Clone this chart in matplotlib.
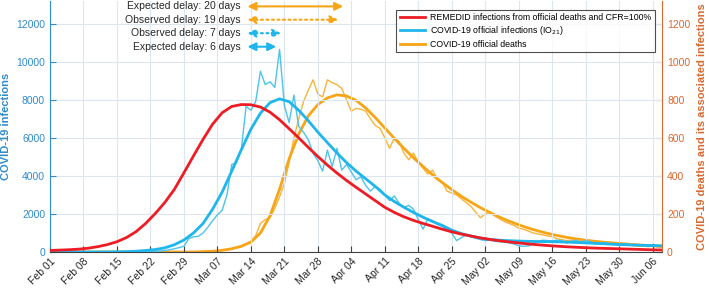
import numpy as np
import pandas as pd
import matplotlib
matplotlib.use('Agg')
from matplotlib import pyplot as plt

plt.rcParams['font.family'] = ['Liberation Sans', 'DejaVu Sans']

# daily dates Feb 01 -> Jun 08 2020, smooth curves read every 2 days
days = pd.date_range('2020-02-01', periods=129, freq='D')
days2 = pd.date_range('2020-02-01', periods=65, freq='2D')

# REMEDID infections from official deaths (left axis), every 2 days
remedid = [80, 100, 120, 150, 200, 280, 390, 540, 760, 1070, 1500, 2020, 2600, 3290, 4160, 5050,
           5920, 6720, 7320, 7650, 7750, 7740, 7620, 7350, 6950, 6480, 6000, 5500, 5020, 4570, 4150,
           3760, 3400, 3050, 2700, 2350, 2080, 1850, 1660, 1500, 1350, 1200, 1060, 940, 840, 740,
           660, 590, 530, 475, 425, 380, 340, 305, 275, 250, 225, 205, 190, 175, 160, 145, 130, 115, 105]

# official infections, smoothed (left axis), every 2 days
inf_smooth = [0, 0, 0, 0, 0, 0, 5, 10, 20, 40, 80, 130, 220, 380, 630, 1000, 1500, 2250, 3150, 4250,
              5370, 6450, 7300, 7850, 8050, 7900, 7450, 6900, 6300, 5750, 5200, 4700, 4250, 3850, 3450,
              3000, 2650, 2350, 2080, 1830, 1600, 1400, 1150, 970, 840, 730, 660, 620, 595, 575, 560,
              550, 545, 535, 520, 500, 480, 455, 430, 405, 385, 365, 350, 335, 325]

# official deaths, smoothed (right axis), every 2 days
dth_smooth = [0, 0, 0, 0, 0, 0, 0, 0, 0, 0, 0, 0, 0, 0, 0, 0, 2, 4, 9, 17, 30, 52, 100, 190, 330, 490,
              620, 715, 775, 810, 826, 820, 797, 757, 707, 652, 597, 545, 495, 450, 405, 365, 328, 293,
              262, 233, 207, 183, 162, 143, 126, 111, 98, 87, 77, 69, 62, 56, 51, 47, 43, 39, 36, 33, 30]

# official daily infections IO21 (left axis)
inf_daily = [0] * 20 + [10, 15, 25, 50, 80, 120, 170, 230, 300, 700, 800, 820, 1000, 1300, 1650, 1950,
             2200, 3000, 4600, 4700, 5400, 7650, 7450, 7900, 9500, 8800, 8950, 8650, 10650, 7700, 6800,
             8250, 6600, 6300, 5900, 5200, 4800, 4250, 5350, 4500, 5450, 4300, 4600, 4200, 3800, 3950,
             3500, 3200, 3450, 3300, 3000, 2700, 2950, 2550, 2350, 2450, 2250, 1700, 1200, 1750, 1650,
             1450, 1350, 1150, 1000, 600, 750, 900, 800, 720, 650, 600, 620, 560, 540, 520, 480, 420,
             330, 300, 320, 420, 560, 620, 600, 590, 620, 600, 470, 560, 620, 520, 600, 540, 420, 460,
             500, 430, 390, 360, 420, 390, 350, 400, 310, 350, 400, 330, 350]

# official daily deaths (right axis)
dth_daily = [0] * 32 + [2, 3, 4, 6, 8, 12, 16, 22, 30, 42, 55, 85, 150, 170, 180, 230, 290, 360, 470,
             600, 700, 790, 850, 905, 830, 815, 905, 890, 880, 860, 800, 740, 755, 750, 740, 700, 665,
             650, 600, 545, 600, 580, 520, 485, 520, 470, 440, 410, 430, 380, 370, 320, 310, 300, 280,
             260, 240, 210, 180, 200, 210, 190, 175, 160, 150, 140, 125, 120, 110, 100, 95, 90, 85, 80,
             70, 65, 60, 62, 58, 55, 50, 52, 50, 45, 48, 40, 42, 38, 35, 37, 33, 30, 32, 28, 30, 27, 25]

# delays (days) measured from the REMEDID peak
remedid_peak = pd.Timestamp('2020-03-13 07:00')
delays = [('Expected delay: 20 days', 20, 'orange', '-'),
          ('Observed delay: 19 days', 19, 'orange', ':'),
          ('Observed delay: 7 days', 7, 'blue', ':'),
          ('Expected delay: 6 days', 6, 'blue', '-')]

red = '#ee1c24'
cyan = '#1eb6ec'
cyan_thin = '#4ec3ec'
orange = '#f7a516'
orange_thin = '#f6b43a'
left_col = '#2f8ccc'
right_col = '#d8692f'

fig = plt.figure(figsize=(7.09, 2.88), dpi=100)
ax = fig.add_axes([0.0705, 0.125, 0.8635, 0.872])
ax2 = ax.twinx()

ax.plot(days, inf_daily, color=cyan_thin, lw=1.0, zorder=3)
l2, = ax.plot(days2, inf_smooth, color=cyan, lw=2.0, zorder=4)
ax2.plot(days, dth_daily, color=orange_thin, lw=1.0, zorder=3)
l3, = ax2.plot(days2, dth_smooth, color=orange, lw=2.0, zorder=4)
l1, = ax.plot(days2, remedid, color=red, lw=2.0, zorder=5)
ax.set_zorder(ax2.get_zorder() + 1)
ax.patch.set_visible(False)

ax.set_xlim(days[0], days[-1])
ax.set_ylim(0, 13200)
ax2.set_ylim(0, 1320)
ax.set_yticks(np.arange(0, 12001, 2000))
ax2.set_yticks(np.arange(0, 1201, 200))

ticks = pd.date_range('2020-02-01', '2020-06-06', freq='7D')
ax.set_xticks(ticks)
ax.set_xticklabels([t.strftime('%b %d') for t in ticks], rotation=45, ha='right',
                   rotation_mode='anchor', fontsize=7.5, color='#262626')
ax.grid(True, color='#dde5ee', lw=0.8)
ax.set_axisbelow(True)

ax.tick_params(axis='x', direction='in', length=4, color='#404040', pad=3)
ax.tick_params(axis='y', direction='in', length=4, colors=left_col, labelsize=7.5)
ax2.tick_params(axis='y', direction='in', length=4, colors=right_col, labelsize=7.5)
for a in (ax, ax2):
    a.spines['top'].set_visible(False)
ax.spines['right'].set_visible(False)
ax.spines['left'].set_color(left_col)
ax2.spines['left'].set_visible(False)
ax2.spines['right'].set_color(right_col)
ax.spines['bottom'].set_color('#404040')
ax2.spines['bottom'].set_visible(False)

ax.set_ylabel('COVID-19 infections', color=left_col, fontsize=8, fontweight='bold', labelpad=4)
ax2.set_ylabel('COVID-19 deaths and its associated infections', color=right_col,
               fontsize=8, fontweight='bold', labelpad=5)

# delay arrows
arrow_y = [12910, 12210, 11500, 10790]
for (txt, d, c, ls), yy in zip(delays, arrow_y):
    col = orange if c == 'orange' else cyan
    end = remedid_peak + pd.Timedelta(days=d)
    ax.annotate('', xy=(end, yy), xytext=(remedid_peak, yy),
                arrowprops=dict(arrowstyle='<|-|>', color=col, lw=1.5, linestyle=ls,
                                mutation_scale=12, shrinkA=0, shrinkB=0), zorder=6)
    ax.annotate(txt, xy=(remedid_peak, yy), xytext=(-5, 0), textcoords='offset points',
                ha='right', va='center', fontsize=7.5, color='#262626', zorder=6)

leg = ax.legend([l1, l2, l3],
                ['REMEDID infections from official deaths and CFR=100%',
                 'COVID-19 official infections (IO$_{21}$)',
                 'COVID-19 official deaths'],
                loc='upper right', bbox_to_anchor=(0.924, 0.966), bbox_transform=fig.transFigure,
                fontsize=6.3, frameon=True, fancybox=False, edgecolor='#222222',
                handlelength=2.9, borderpad=0.4, labelspacing=0.25, handletextpad=0.6,
                borderaxespad=0)
leg.get_frame().set_linewidth(0.8)
leg.set_zorder(10)

fig.savefig('out.png', dpi=100)
